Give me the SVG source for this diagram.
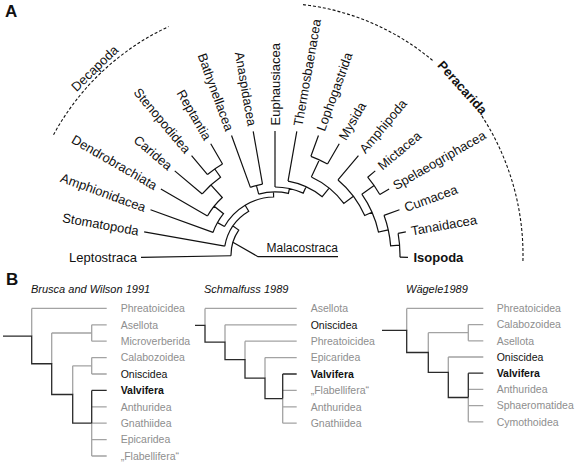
<svg xmlns="http://www.w3.org/2000/svg" width="577" height="464" viewBox="0 0 577 464">
<style>
.t{font-family:"Liberation Sans",Arial,sans-serif;font-size:13px;fill:#111}
.tb{font-weight:bold}
.br{fill:none;stroke:#111;stroke-width:1.2}
.ds{fill:none;stroke:#111;stroke-width:1.1;stroke-dasharray:3 2}
.g{fill:none;stroke:#a3a3a3;stroke-width:1.3}
.k{fill:none;stroke:#2a2a2a;stroke-width:1.3}
.lg{font-family:"Liberation Sans",Arial,sans-serif;font-size:10.5px;fill:#8e8e8e}
.lk{font-family:"Liberation Sans",Arial,sans-serif;font-size:10.5px;fill:#111}
.ti{font-family:"Liberation Sans",Arial,sans-serif;font-size:11px;font-style:italic;fill:#111}
.pl{font-family:"Liberation Sans",Arial,sans-serif;font-size:17px;font-weight:bold;fill:#111}
</style>
<text class="pl" x="5" y="17">A</text>
<text class="pl" x="6" y="285">B</text>
<g id="connectors">
<g transform="translate(0 -2)">
<path class="br" d="M231.01 257.77L141.02 259.34M224.78 248.14L144.16 233.93M212.98 234.43L150.53 211.7M207.45 218L160.87 191.1M202.23 195.93L174.73 172.86M207.51 176.57L191.57 157.57M222.5 166.07L210.75 145.72M250.37 189.34L231.54 137.58M262.5 186.09L253.2 133.35M275 189V133M288.02 183.14L296.8 133.35M310.91 158.33L318.46 137.58M327.5 166.07L339.25 145.72M337.99 181.93L358.43 157.57M367.69 179.22L375.27 172.86M379.79 196.5L389.13 191.1M384 217.33L399.47 211.7M398.1 235.29L405.84 233.93M399.98 259.18L407.98 259.32"/>
<path class="br" d="M231.01 257.77A44 44 0 0 1 238.74 232.08L232.97 228.11M224.78 248.14A51 51 0 0 1 248.73 213.28L245.13 207.28M224.46 228.55A58 58 0 0 1 273.61 199.02L273.49 194.02M224.46 228.55L217.49 224.63M212.98 234.43A66 66 0 0 1 223.51 215.69L214.15 208.18M207.45 218A78 78 0 0 1 222.3 199.49L210.82 186.96M202.23 195.93A95 95 0 0 1 220.51 179.18L214.77 170.99M207.51 176.57A105 105 0 0 1 222.5 166.07M258.69 196.15A63 63 0 0 1 288.37 195.43L289.43 190.55M258.69 196.15L256.36 187.45M250.37 189.34A72 72 0 0 1 262.5 186.09M275 189A68 68 0 0 1 303.2 195.12L306.1 188.75M288.02 183.14A75 75 0 0 1 322.2 198.71L329.12 190.17M311.35 179.06A86 86 0 0 1 343.8 205.4L353.4 198.2M311.35 179.06L319.38 161.84M310.91 158.33A105 105 0 0 1 327.5 166.07M337.99 181.93A98 98 0 0 1 364.7 217.53L372.02 214.31M361.83 196.2A106 106 0 0 1 378.49 234.06L388.25 231.89M361.83 196.2L374.12 187.6M367.69 179.22A121 121 0 0 1 379.79 196.5M384 217.33A116 116 0 0 1 390.64 247.9L399.61 247.19M398.1 235.29A125 125 0 0 1 399.98 259.18"/>
<path class="br" d="M232.87 244.32L258 258.7H338"/>
</g>
<path class="ds" d="M53.54 134.76A252 252 0 0 1 168.5 26.61"/>
<path class="ds" d="M303.07 4.62A248 252 0 0 1 432.75 60.55M481.8 115.91A248 252 0 0 1 522.92 261.6"/>
<path class="g" d="M31.7 308.4V336.1M31.7 308.4H106.7M51.7 333V363.75M51.7 333H91.7M91.7 324.8V341.2M91.7 324.8H106.7M91.7 341.2H106.7M72.7 365.8V394.5M72.7 365.8H91.7M91.7 357.6V374M91.7 357.6H106.7M91.7 374H106.7M91.7 423.2V456M91.7 406.8H106.7M91.7 423.2H106.7M91.7 439.6H106.7M91.7 456H106.7"/>
<path class="k" d="M3 336.1H31.7V363.75H51.7V394.5H72.7V423.2H91.7M91.7 390.4V423.2M91.7 390.4H106.7"/>
<path class="g" d="M205 308.4V325.3M205 308.4H296.7M225 324.8V342.2M225 324.8H296.7M245 341.2V359.65M245 341.2H296.7M265 357.6V378.1M265 357.6H296.7M282.7 398.6V423.2M282.7 390.4H296.7M282.7 406.8H296.7M282.7 423.2H296.7"/>
<path class="k" d="M195 325.3H205V342.2H225V359.65H245V378.1H265V398.6H282.7M282.7 374V398.6M282.7 374H296.7"/>
<path class="g" d="M406.7 308.4V330.45M406.7 308.4H483.3M428.3 332.7V352.5M428.3 332.7H468.3M468.3 324.6V340.8M468.3 324.6H483.3M468.3 340.8H483.3M448.3 357V372.3M448.3 357H483.3M468.3 397.5V421.8M468.3 389.4H483.3M468.3 405.6H483.3M468.3 421.8H483.3"/>
<path class="k" d="M382 330.45H406.7V352.5H428.3V372.3H448.3V397.5H468.3M468.3 373.2V397.5M468.3 373.2H483.3"/>
</g>
<g id="nodes-A" transform="translate(0 -2)">
<g id="n-leptostraca"><text class="t" text-anchor="end" dy=".35em" transform="translate(137.02 259.41)">Leptostraca</text></g>
<g id="n-stomatopoda"><text class="t" text-anchor="end" dy=".35em" transform="translate(138.74 232.97) rotate(10)">Stomatopoda</text></g>
<g id="n-amphionidacea"><text class="t" text-anchor="end" dy=".35em" transform="translate(145.36 209.81) rotate(20)">Amphionidacea</text></g>
<g id="n-dendrobrachiata"><text class="t" text-anchor="end" dy=".35em" transform="translate(156.1 188.35) rotate(30)">Dendrobrachiata</text></g>
<g id="n-caridea"><text class="t" text-anchor="end" dy=".35em" transform="translate(170.52 169.33) rotate(40)">Caridea</text></g>
<g id="n-stenopodidea"><text class="t" text-anchor="end" dy=".35em" transform="translate(188.04 153.36) rotate(50)">Stenopodidea</text></g>
<g id="n-reptantia"><text class="t" text-anchor="end" dy=".35em" transform="translate(208 140.95) rotate(60)">Reptantia</text></g>
<g id="n-bathynellacea"><text class="t" text-anchor="end" dy=".35em" transform="translate(229.65 132.42) rotate(70)">Bathynellacea</text></g>
<g id="n-anaspidacea"><text class="t" text-anchor="end" dy=".35em" transform="translate(252.24 127.93) rotate(80)">Anaspidacea</text></g>
<g id="n-euphausiacea"><text class="t" dy=".35em" transform="translate(275 127.5) rotate(-90)">Euphausiacea</text></g>
<g id="n-thermosbaenacea"><text class="t" dy=".35em" transform="translate(297.76 127.93) rotate(-80)">Thermosbaenacea</text></g>
<g id="n-lophogastrida"><text class="t" dy=".35em" transform="translate(320.35 132.42) rotate(-70)">Lophogastrida</text></g>
<g id="n-mysida"><text class="t" dy=".35em" transform="translate(342 140.95) rotate(-60)">Mysida</text></g>
<g id="n-amphipoda"><text class="t" dy=".35em" transform="translate(361.96 153.36) rotate(-50)">Amphipoda</text></g>
<g id="n-mictacea"><text class="t" dy=".35em" transform="translate(379.48 169.33) rotate(-40)">Mictacea</text></g>
<g id="n-spelaeogriphacea"><text class="t" dy=".35em" transform="translate(393.9 188.35) rotate(-30)">Spelaeogriphacea</text></g>
<g id="n-cumacea"><text class="t" dy=".35em" transform="translate(404.64 209.81) rotate(-20)">Cumacea</text></g>
<g id="n-tanaidacea"><text class="t" dy=".35em" transform="translate(411.26 232.97) rotate(-10)">Tanaidacea</text></g>
<g id="n-isopoda"><text class="t tb" dy=".35em" transform="translate(413.48 259.4)">Isopoda</text></g>
</g>
<g id="nodes-A-groups">
<g id="n-malacostraca"><text class="t" style="font-size:12px" x="266.5" y="252">Malacostraca</text></g>
<g id="n-decapoda"><text class="t" text-anchor="middle" transform="translate(97.86 71.57) rotate(-44)">Decapoda</text></g>
<g id="n-peracarida"><text class="t tb" text-anchor="middle" dy=".35em" transform="translate(462.5 87.5) rotate(48)">Peracarida</text></g>
</g>
<g id="nodes-B1">
<text class="ti" x="31" y="293">Brusca and Wilson 1991</text>
<text class="lg" x="120.7" y="312.2">Phreatoicidea</text>
<text class="lg" x="120.7" y="328.6">Asellota</text>
<text class="lg" x="120.7" y="345">Microverberida</text>
<text class="lg" x="120.7" y="361.4">Calabozoidea</text>
<text class="lk" x="120.7" y="377.8">Oniscidea</text>
<text class="lk tb" x="120.7" y="394.2">Valvifera</text>
<text class="lg" x="120.7" y="410.6">Anthuridea</text>
<text class="lg" x="120.7" y="427">Gnathiidea</text>
<text class="lg" x="120.7" y="443.4">Epicaridea</text>
<text class="lg" x="120.7" y="459.8">„Flabellifera“</text>
</g>
<g id="nodes-B2">
<text class="ti" x="204" y="293">Schmalfuss 1989</text>
<text class="lg" x="310.7" y="312.2">Asellota</text>
<text class="lk" x="310.7" y="328.6">Oniscidea</text>
<text class="lg" x="310.7" y="345">Phreatoicidea</text>
<text class="lg" x="310.7" y="361.4">Epicaridea</text>
<text class="lk tb" x="310.7" y="377.8">Valvifera</text>
<text class="lg" x="310.7" y="394.2">„Flabellifera“</text>
<text class="lg" x="310.7" y="410.6">Anthuridea</text>
<text class="lg" x="310.7" y="427">Gnathiidea</text>
</g>
<g id="nodes-B3">
<text class="ti" x="406" y="293">Wägele1989</text>
<text class="lg" x="496.7" y="312.2">Phreatoicidea</text>
<text class="lg" x="496.7" y="328.4">Calabozoidea</text>
<text class="lg" x="496.7" y="344.6">Asellota</text>
<text class="lk" x="496.7" y="360.8">Oniscidea</text>
<text class="lk tb" x="496.7" y="377">Valvifera</text>
<text class="lg" x="496.7" y="393.2">Anthuridea</text>
<text class="lg" x="496.7" y="409.4">Sphaeromatidea</text>
<text class="lg" x="496.7" y="425.6">Cymothoidea</text>
</g>
</svg>
